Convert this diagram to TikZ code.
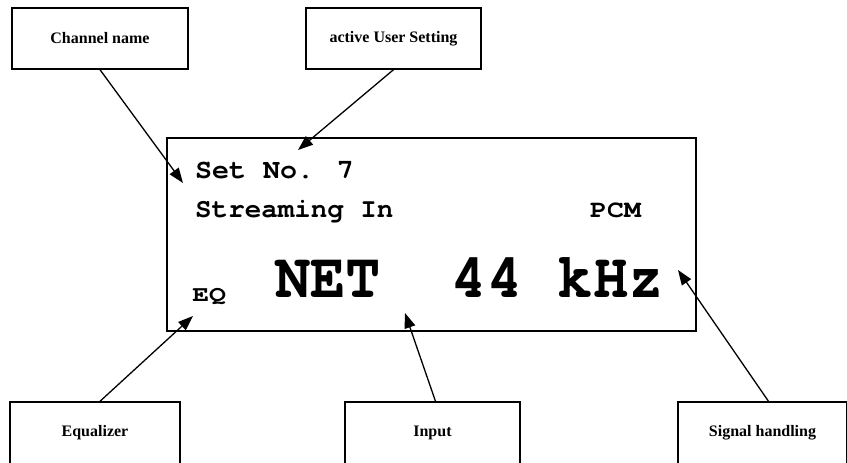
\documentclass[tikz,border=0pt]{standalone}
\usepackage{fontspec}
\setmainfont{Liberation Serif}
\newfontfamily\lcdfont{TeX Gyre Cursor}
\usetikzlibrary{arrows.meta}

\begin{document}
\begin{tikzpicture}[x=1pt, y=-1pt, >={Triangle[length=15pt,width=11pt]},
	callout/.style={draw, line width=1.4pt, minimum width=175pt, minimum height=61pt, inner sep=0pt, font=\bfseries\fontsize{16}{18}\selectfont},
	pointer/.style={->, line width=1.3pt},
	lcd/.style={anchor=base west, inner sep=0pt, font=\lcdfont\bfseries\fontsize{#1}{#1}\selectfont}]
	
	% parameters
	\def\topy{38.5}      % centre line of the upper boxes
	\def\boty{433}       % centre line of the lower boxes
	
	\useasboundingbox (0,0) rectangle (847,463);
	
	% display frame
	\draw[line width=1.4pt] (167,138) rectangle (696,331);
	
	% display text
	\node[lcd=27.5, xscale=1.03] (setno) at (195,178) {Set No. 7};
	\node[lcd=27, xscale=1.02] (stream) at (195,217) {Streaming In};
	\node[lcd=24.5, xscale=1.15] (pcm) at (590,217) {PCM};
	\node[lcd=22, xscale=1.28] (eqtxt) at (192,301) {EQ};
	\node[lcd=64, xscale=0.92] (freq) at (275,297) {NET\ \ 44 kHz};
	
	% where the arrows point
	\coordinate (chantip) at (183,183);
	\coordinate (usertip) at (298,150);
	\coordinate (eqtip) at (193,316);
	\coordinate (intip) at (405,313);
	\coordinate (sigtip) at (678,270);
	
	% upper boxes
	\node[callout, minimum width=176pt] (chan) at (100,\topy) {Channel name};
	\node[callout] (user) at (393.5,\topy) {active User Setting};
	
	% lower boxes
	\node[callout, minimum width=170pt, minimum height=62pt] (eq) at (95,\boty) {Equalizer};
	\node[callout, minimum height=62pt] (in) at (432.5,\boty) {Input};
	\node[callout, minimum width=169pt, minimum height=62pt] (sig) at (762.5,\boty) {Signal handling};
	
	% arrows
	\draw[pointer] (chan.south) -- (chantip);
	\draw[pointer] (user.south) -- (usertip);
	\draw[pointer] ([xshift=5pt]eq.north) -- (eqtip);
	\draw[pointer] ([xshift=3pt]in.north) -- (intip);
	\draw[pointer] ([xshift=6pt]sig.north) -- (sigtip);
\end{tikzpicture}
\end{document}
